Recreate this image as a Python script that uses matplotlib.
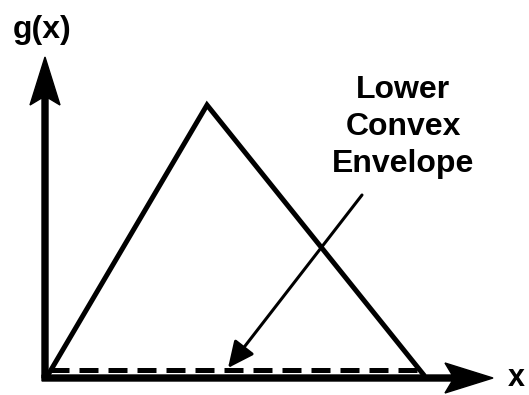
import matplotlib.pyplot as plt

plt.rcParams['font.family'] = ['Liberation Sans', 'DejaVu Sans']

# data, in pixel-like units measured from the axes origin
tri_x = [3, 162, 378]
tri_y = [3, 273, 4]
env_x = [5, 372]
env_y = [8, 8]
x_axis_end = 448
y_axis_end = 321
label_text = "Lower\nConvex\nEnvelope"
label_pos = (358, 251)
pointer_from = (317, 183)
pointer_to = (183, 10)

fig = plt.figure(figsize=(5.29, 3.95), dpi=100)
ax = fig.add_axes([0, 0, 1, 1])
ax.set_xlim(-45, 484)
ax.set_ylim(-17, 378)
ax.axis('off')

# triangle g(x)
ax.plot(tri_x, tri_y, color='black', lw=3.6, solid_joinstyle='miter', zorder=3)

# lower convex envelope (dashed)
ax.plot(env_x, env_y, color='black', lw=3.6, dashes=(3.8, 2.0), zorder=3)

# axes as arrows
ax.arrow(0, 0, 0, y_axis_end, width=6, head_width=30, head_length=48,
         length_includes_head=True, overhang=0.15, color='black', zorder=4)
ax.arrow(-3, 0, x_axis_end + 3, 0, width=6, head_width=30, head_length=48,
         length_includes_head=True, overhang=0.15, color='black', zorder=4)

ax.text(-32, 348, "g(x)", fontsize=23, fontweight='bold', ha='left', va='center')
ax.text(471, 0, "x", fontsize=22, fontweight='bold', ha='center', va='center')

ax.text(label_pos[0], label_pos[1], label_text, fontsize=23, fontweight='bold',
        ha='center', va='center', linespacing=1.3)

ax.annotate("", xy=pointer_to, xytext=pointer_from,
            arrowprops=dict(arrowstyle="-|>,head_length=1.6,head_width=0.75",
                            lw=2.2, color='black', shrinkA=0, shrinkB=0))

fig.savefig("out.png", dpi=100)
